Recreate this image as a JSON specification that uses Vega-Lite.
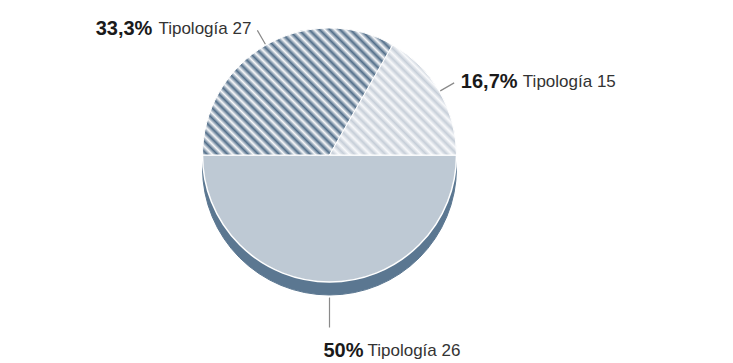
{
  "$schema": "https://vega.github.io/schema/vega-lite/v6.json",
  "width": 659,
  "height": 310,
  "autosize": {"type": "none"},
  "padding": {"left": 0, "top": 0, "right": 74, "bottom": 53},
  "background": "white",
  "config": {"view": {"stroke": null}, "text": {"font": "Liberation Sans"}},
  "data": {"values": [
    {"tipologia": "Tipología 26", "pct": 50, "label": "50%", "orden": 1},
    {"tipologia": "Tipología 27", "pct": 33.3, "label": "33,3%", "orden": 2},
    {"tipologia": "Tipología 15", "pct": 16.7, "label": "16,7%", "orden": 3}
  ]},
  "transform": [
    {"stack": "pct", "groupby": [], "sort": [{"field": "orden", "order": "ascending"}], "as": ["v0", "v1"]}
  ],
  "layer": [
    {"mark": {"type": "arc", "outerRadius": 127, "yOffset": 13, "fill": "#5b7791", "stroke": "#5b7791", "strokeWidth": 1},
     "encoding": {"theta": {"field": "v0", "type": "quantitative", "stack": null, "scale": {"domain": [0, 100], "range": [1.5708, 7.854]}}, "theta2": {"field": "v1"}}},
    {"transform": [{"filter": "datum.tipologia === 'Tipología 26'"}],
     "mark": {"type": "arc", "outerRadius": 127, "fill": "#bec9d4", "stroke": "white", "strokeWidth": 1.5},
     "encoding": {"theta": {"field": "v0", "type": "quantitative", "stack": null}, "theta2": {"field": "v1"}}},
    {"transform": [{"filter": "datum.tipologia === 'Tipología 27'"}],
     "mark": {"type": "arc", "outerRadius": 127, "stroke": "white", "strokeWidth": 1,
       "fill": {"gradient": "linear", "x1": 0, "y1": 1, "x2": 1.5, "y2": 0, "stops": [
        {"offset": 0, "color": "#f7f8fa"}, {"offset": 0.0125, "color": "#526e89"},
        {"offset": 0.025, "color": "#f7f8fa"}, {"offset": 0.0375, "color": "#526e89"},
        {"offset": 0.05, "color": "#f7f8fa"}, {"offset": 0.0625, "color": "#526e89"},
        {"offset": 0.075, "color": "#f7f8fa"}, {"offset": 0.0875, "color": "#526e89"},
        {"offset": 0.1, "color": "#f7f8fa"}, {"offset": 0.1125, "color": "#526e89"},
        {"offset": 0.125, "color": "#f7f8fa"}, {"offset": 0.1375, "color": "#526e89"},
        {"offset": 0.15, "color": "#f7f8fa"}, {"offset": 0.1625, "color": "#526e89"},
        {"offset": 0.175, "color": "#f7f8fa"}, {"offset": 0.1875, "color": "#526e89"},
        {"offset": 0.2, "color": "#f7f8fa"}, {"offset": 0.2125, "color": "#526e89"},
        {"offset": 0.225, "color": "#f7f8fa"}, {"offset": 0.2375, "color": "#526e89"},
        {"offset": 0.25, "color": "#f7f8fa"}, {"offset": 0.2625, "color": "#526e89"},
        {"offset": 0.275, "color": "#f7f8fa"}, {"offset": 0.2875, "color": "#526e89"},
        {"offset": 0.3, "color": "#f7f8fa"}, {"offset": 0.3125, "color": "#526e89"},
        {"offset": 0.325, "color": "#f7f8fa"}, {"offset": 0.3375, "color": "#526e89"},
        {"offset": 0.35, "color": "#f7f8fa"}, {"offset": 0.3625, "color": "#526e89"},
        {"offset": 0.375, "color": "#f7f8fa"}, {"offset": 0.3875, "color": "#526e89"},
        {"offset": 0.4, "color": "#f7f8fa"}, {"offset": 0.4125, "color": "#526e89"},
        {"offset": 0.425, "color": "#f7f8fa"}, {"offset": 0.4375, "color": "#526e89"},
        {"offset": 0.45, "color": "#f7f8fa"}, {"offset": 0.4625, "color": "#526e89"},
        {"offset": 0.475, "color": "#f7f8fa"}, {"offset": 0.4875, "color": "#526e89"},
        {"offset": 0.5, "color": "#f7f8fa"}, {"offset": 0.5125, "color": "#526e89"},
        {"offset": 0.525, "color": "#f7f8fa"}, {"offset": 0.5375, "color": "#526e89"},
        {"offset": 0.55, "color": "#f7f8fa"}, {"offset": 0.5625, "color": "#526e89"},
        {"offset": 0.575, "color": "#f7f8fa"}, {"offset": 0.5875, "color": "#526e89"},
        {"offset": 0.6, "color": "#f7f8fa"}, {"offset": 0.6125, "color": "#526e89"},
        {"offset": 0.625, "color": "#f7f8fa"}, {"offset": 0.6375, "color": "#526e89"},
        {"offset": 0.65, "color": "#f7f8fa"}, {"offset": 0.6625, "color": "#526e89"},
        {"offset": 0.675, "color": "#f7f8fa"}, {"offset": 0.6875, "color": "#526e89"},
        {"offset": 0.7, "color": "#f7f8fa"}, {"offset": 0.7125, "color": "#526e89"},
        {"offset": 0.725, "color": "#f7f8fa"}, {"offset": 0.7375, "color": "#526e89"},
        {"offset": 0.75, "color": "#f7f8fa"}, {"offset": 0.7625, "color": "#526e89"},
        {"offset": 0.775, "color": "#f7f8fa"}, {"offset": 0.7875, "color": "#526e89"},
        {"offset": 0.8, "color": "#f7f8fa"}
       ]}},
     "encoding": {"theta": {"field": "v0", "type": "quantitative", "stack": null}, "theta2": {"field": "v1"}}},
    {"transform": [{"filter": "datum.tipologia === 'Tipología 15'"}],
     "mark": {"type": "arc", "outerRadius": 127, "stroke": "white", "strokeWidth": 1,
       "fill": {"gradient": "linear", "x1": 0, "y1": 1, "x2": 1.155, "y2": 0, "stops": [
        {"offset": 0, "color": "#f8f9fb"}, {"offset": 0.02, "color": "#c6ced8"},
        {"offset": 0.04, "color": "#f8f9fb"}, {"offset": 0.06, "color": "#c6ced8"},
        {"offset": 0.08, "color": "#f8f9fb"}, {"offset": 0.1, "color": "#c6ced8"},
        {"offset": 0.12, "color": "#f8f9fb"}, {"offset": 0.14, "color": "#c6ced8"},
        {"offset": 0.16, "color": "#f8f9fb"}, {"offset": 0.18, "color": "#c6ced8"},
        {"offset": 0.2, "color": "#f8f9fb"}, {"offset": 0.22, "color": "#c6ced8"},
        {"offset": 0.24, "color": "#f8f9fb"}, {"offset": 0.26, "color": "#c6ced8"},
        {"offset": 0.28, "color": "#f8f9fb"}, {"offset": 0.3, "color": "#c6ced8"},
        {"offset": 0.32, "color": "#f8f9fb"}, {"offset": 0.34, "color": "#c6ced8"},
        {"offset": 0.36, "color": "#f8f9fb"}, {"offset": 0.38, "color": "#c6ced8"},
        {"offset": 0.4, "color": "#f8f9fb"}, {"offset": 0.42, "color": "#c6ced8"},
        {"offset": 0.44, "color": "#f8f9fb"}, {"offset": 0.46, "color": "#c6ced8"},
        {"offset": 0.48, "color": "#f8f9fb"}, {"offset": 0.5, "color": "#c6ced8"},
        {"offset": 0.52, "color": "#f8f9fb"}, {"offset": 0.54, "color": "#c6ced8"},
        {"offset": 0.56, "color": "#f8f9fb"}, {"offset": 0.58, "color": "#c6ced8"},
        {"offset": 0.6, "color": "#f8f9fb"}, {"offset": 0.62, "color": "#c6ced8"},
        {"offset": 0.64, "color": "#f8f9fb"}, {"offset": 0.66, "color": "#c6ced8"},
        {"offset": 0.68, "color": "#f8f9fb"}, {"offset": 0.7, "color": "#c6ced8"},
        {"offset": 0.72, "color": "#f8f9fb"}, {"offset": 0.74, "color": "#c6ced8"},
        {"offset": 0.76, "color": "#f8f9fb"}, {"offset": 0.78, "color": "#c6ced8"},
        {"offset": 0.8, "color": "#f8f9fb"}, {"offset": 0.82, "color": "#c6ced8"},
        {"offset": 0.84, "color": "#f8f9fb"}, {"offset": 0.86, "color": "#c6ced8"},
        {"offset": 0.88, "color": "#f8f9fb"}, {"offset": 0.9, "color": "#c6ced8"},
        {"offset": 0.92, "color": "#f8f9fb"}, {"offset": 0.94, "color": "#c6ced8"}
       ]}},
     "encoding": {"theta": {"field": "v0", "type": "quantitative", "stack": null}, "theta2": {"field": "v1"}}},
    {"transform": [{"filter": "datum.tipologia !== 'Tipología 26'"}],
     "mark": {"type": "arc", "innerRadius": 128, "outerRadius": 144, "padAngle": 3.2, "fill": null, "stroke": "#8a8a8a", "strokeWidth": 1.2},
     "encoding": {"theta": {"field": "v0", "type": "quantitative", "stack": null}, "theta2": {"field": "v1"}}},
    {"transform": [{"filter": "datum.tipologia === 'Tipología 26'"}],
     "mark": {"type": "arc", "innerRadius": 143, "outerRadius": 172, "padAngle": 3.2, "fill": null, "stroke": "#8a8a8a", "strokeWidth": 1.2},
     "encoding": {"theta": {"field": "v0", "type": "quantitative", "stack": null}, "theta2": {"field": "v1"}}},
    {"mark": {"type": "text", "radius": 146, "align": "right", "baseline": "middle", "dx": -5, "fontSize": 17, "fill": "#333333"},
     "encoding": {"theta": {"field": "pct", "type": "quantitative", "stack": true}, "order": {"field": "orden", "type": "quantitative"},
       "text": {"condition": {"test": "datum.tipologia === 'Tipología 27'", "field": "tipologia"}, "value": ""}}},
    {"mark": {"type": "text", "radius": 146, "align": "right", "baseline": "middle", "dx": -104, "fontSize": 20, "fontWeight": "bold", "fill": "#1a1a1a"},
     "encoding": {"theta": {"field": "pct", "type": "quantitative", "stack": true}, "order": {"field": "orden", "type": "quantitative"},
       "text": {"condition": {"test": "datum.tipologia === 'Tipología 27'", "field": "label"}, "value": ""}}},
    {"mark": {"type": "text", "radius": 146, "align": "left", "baseline": "middle", "dx": 5, "fontSize": 20, "fontWeight": "bold", "fill": "#1a1a1a"},
     "encoding": {"theta": {"field": "pct", "type": "quantitative", "stack": true}, "order": {"field": "orden", "type": "quantitative"},
       "text": {"condition": {"test": "datum.tipologia === 'Tipología 15'", "field": "label"}, "value": ""}}},
    {"mark": {"type": "text", "radius": 146, "align": "left", "baseline": "middle", "dx": 67, "fontSize": 17, "fill": "#333333"},
     "encoding": {"theta": {"field": "pct", "type": "quantitative", "stack": true}, "order": {"field": "orden", "type": "quantitative"},
       "text": {"condition": {"test": "datum.tipologia === 'Tipología 15'", "field": "tipologia"}, "value": ""}}},
    {"mark": {"type": "text", "radius": 196, "align": "left", "baseline": "middle", "dx": -6, "fontSize": 20, "fontWeight": "bold", "fill": "#1a1a1a"},
     "encoding": {"theta": {"field": "pct", "type": "quantitative", "stack": true}, "order": {"field": "orden", "type": "quantitative"},
       "text": {"condition": {"test": "datum.tipologia === 'Tipología 26'", "field": "label"}, "value": ""}}},
    {"mark": {"type": "text", "radius": 196, "align": "left", "baseline": "middle", "dx": 38, "fontSize": 17, "fill": "#333333"},
     "encoding": {"theta": {"field": "pct", "type": "quantitative", "stack": true}, "order": {"field": "orden", "type": "quantitative"},
       "text": {"condition": {"test": "datum.tipologia === 'Tipología 26'", "field": "tipologia"}, "value": ""}}}
  ]
}
